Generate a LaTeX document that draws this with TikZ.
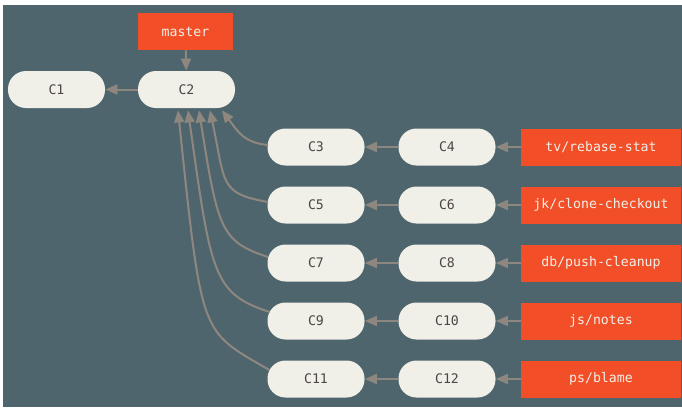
\documentclass[tikz,border=0pt]{standalone}
\usepackage{fontspec}
\setmonofont{DejaVu Sans Mono}
\usepackage{xcolor}
\usepackage{tikz}
\usetikzlibrary{arrows.meta}
\definecolor{slate}{RGB}{79,101,109}
\definecolor{cream}{RGB}{240,239,232}
\definecolor{gitred}{RGB}{242,79,40}
\definecolor{linkgrey}{RGB}{142,135,127}
\definecolor{inkgrey}{RGB}{77,69,65}

\begin{document}
\begin{tikzpicture}[x=0.5pt, y=-0.5pt, font=\ttfamily\fontsize{6.6}{8}\selectfont,
  >={Triangle[length=6pt, width=5pt]},
  commit/.style={fill=cream, text=inkgrey, rounded corners=9pt, minimum width=48.5pt, minimum height=18.5pt, inner sep=0pt},
  branch/.style={fill=gitred, text=cream, minimum width=80pt, minimum height=18.5pt, inner sep=0pt},
  link/.style={draw=linkgrey, line width=1pt, ->}]
\useasboundingbox (0,0) rectangle (682,408);
\fill[white] (0,0) rectangle (682,408);
\fill[slate] (3,5) rectangle (682,407);
\node[branch, minimum width=47.5pt] (master) at (185.5,31.5) {master};
\node[commit] (c1) at (56.5,89.5) {C1};
\node[commit] (c2) at (186.5,89.5) {C2};
\draw[link] (master) -- (c2);
\draw[link] (c2) -- (c1);
\foreach \a/\b/\y/\n in {3/4/147/{tv/rebase-stat}, 5/6/205/{jk/clone-checkout}, 7/8/263/{db/push-cleanup}, 9/10/321/{js/notes}, 11/12/379/{ps/blame}}{
  \node[commit] (c\a) at (316,\y) {C\a};
  \node[commit] (c\b) at (447,\y) {C\b};
  \node[branch] (br\b) at (601,\y) {\n};
  \draw[link] (c\b) -- (c\a);
  \draw[link] (br\b) -- (c\b);
}
% side branches back into C2
\foreach \c/\ax/\ay/\o/\lo/\tx/\i/\li in {3/0.5/1/175/12.5/17.75/-53/12.5, 5/0.5/1.5/170/25/11.75/-78/37.5, 7/0.5/3/162/25/6.25/-81/60, 9/1.25/4.5/162/30/0.75/-82/82.5, 11/1.15/4.5/150/40/-4.25/-84/115}
  \draw[link] ([xshift=\ax pt, yshift=\ay pt]c\c.west) .. controls +(\o:\lo pt) and +(\i:\li pt) .. ([xshift=\tx pt, yshift=-1pt]c2.south);
\end{tikzpicture}
\end{document}
